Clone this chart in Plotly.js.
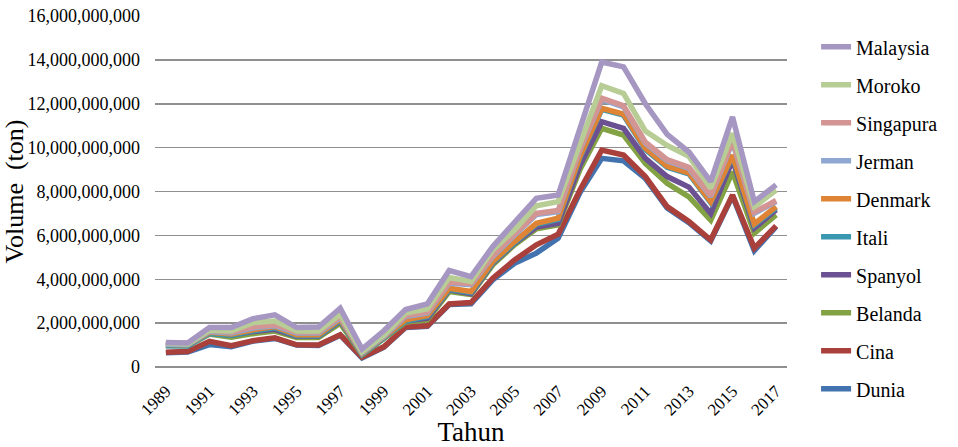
<!DOCTYPE html>
<html>
<head>
<meta charset="utf-8">
<script src="https://cdn.plot.ly/plotly-3.0.1.min.js"></script>
<style>html,body{margin:0;padding:0;background:#fff;}#chart{width:958px;height:447px;}
#chart text{font-family:'Liberation Serif','Times New Roman',serif !important;}</style>
</head>
<body>
<div id="chart"></div>
<script>
// Years 1989..2017
const years = [1989,1990,1991,1992,1993,1994,1995,1996,1997,1998,1999,2000,2001,2002,2003,2004,2005,2006,2007,2008,2009,2010,2011,2012,2013,2014,2015,2016,2017];
const tickYears = [1989,1991,1993,1995,1997,1999,2001,2003,2005,2007,2009,2011,2013,2015,2017];
// values in billions of tons
const malaysia  = [1.12,1.09,1.80,1.80,2.20,2.38,1.80,1.82,2.68,0.82,1.65,2.62,2.88,4.40,4.12,5.49,6.60,7.69,7.84,10.9,13.9,13.68,12.0,10.6,9.8,8.45,11.4,7.54,8.3];
const moroko    = [1.08,1.05,1.68,1.64,2.02,2.10,1.64,1.64,2.40,0.70,1.45,2.46,2.65,4.08,3.90,5.34,6.25,7.35,7.54,10.2,12.82,12.47,10.75,10.1,9.6,8.15,10.65,7.31,8.07];
const singapura = [1.09,1.08,1.67,1.60,1.83,1.93,1.60,1.60,2.30,0.70,1.45,2.35,2.51,3.87,3.80,5.08,6.07,7.00,7.13,9.95,12.25,11.91,10.25,9.45,9.10,7.82,10.32,7.06,7.59];
const jerman    = [1.04,1.03,1.62,1.55,1.78,1.88,1.55,1.55,2.25,0.65,1.40,2.30,2.46,3.82,3.75,5.03,6.02,6.95,7.08,9.9,12.2,11.86,10.2,9.4,9.05,7.77,10.27,7.01,7.54];
const denmark   = [1.02,1.01,1.58,1.50,1.70,1.84,1.47,1.47,2.18,0.62,1.37,2.15,2.35,3.59,3.44,4.81,5.72,6.55,6.78,9.6,11.79,11.53,9.97,9.15,8.85,7.54,9.66,6.52,7.31];
const itali     = [0.97,0.96,1.53,1.45,1.65,1.79,1.42,1.42,2.13,0.57,1.32,2.10,2.30,3.54,3.39,4.76,5.67,6.50,6.73,9.55,11.74,11.48,9.92,9.10,8.80,7.49,9.61,6.47,7.26];
const spanyol   = [1.00,0.99,1.55,1.45,1.62,1.72,1.40,1.40,2.10,0.60,1.35,2.10,2.23,3.52,3.34,4.73,5.64,6.38,6.55,9.2,11.18,10.88,9.51,8.68,8.2,7.0,9.44,6.33,7.16];
const belanda   = [0.98,0.97,1.50,1.36,1.52,1.64,1.35,1.35,2.00,0.55,1.30,2.05,2.15,3.44,3.30,4.66,5.57,6.30,6.48,9.0,10.88,10.57,9.28,8.37,7.75,6.7,8.9,6.1,6.93];
const cina      = [0.67,0.71,1.17,0.97,1.20,1.33,1.01,1.00,1.47,0.45,0.92,1.82,1.88,2.87,2.94,4.05,4.88,5.57,6.05,8.07,9.89,9.66,8.68,7.31,6.63,5.79,7.84,5.42,6.43];
const dunia     = [0.65,0.68,1.02,0.92,1.18,1.30,1.00,0.98,1.45,0.42,0.90,1.80,1.86,2.85,2.88,3.97,4.73,5.19,5.87,7.95,9.51,9.40,8.60,7.25,6.58,5.75,7.80,5.30,6.40];

const seriesNames = ["Dunia","Cina","Belanda","Spanyol","Itali","Denmark","Jerman","Singapura","Moroko","Malaysia"];
const seriesVals  = [dunia,cina,belanda,spanyol,itali,denmark,jerman,singapura,moroko,malaysia];
const colors      = ["#4373AE","#A9403C","#83A243","#6C5192","#3A97B0","#DF8334","#8EA8D2","#D39494","#B7CD95","#A697C2"];

const SERIF = 'Liberation Serif';

const traces = seriesNames.map((n,i)=>({
  type:'scatter', mode:'lines', name:n, legendgroup:n,
  legendrank: seriesNames.length - i,
  x: years, y: seriesVals[i].map(v=>v*1e9),
  line:{color:colors[i], width:5.5, shape:'linear'},
  hoverinfo:'none'
}));

const layout = {
  width:958, height:447,
  margin:{l:155, r:171, t:16, b:80},
  paper_bgcolor:'#fff', plot_bgcolor:'#fff',
  font:{family:SERIF, color:'#000', size:15},
  showlegend:true,
  legend:{x:1.046, xanchor:'left', y:0.968, yanchor:'top', traceorder:'grouped', tracegroupgap:9,
          maxheight:440,
          font:{size:20, family:SERIF, color:'#000'}, bgcolor:'rgba(0,0,0,0)', itemwidth:30},
  xaxis:{range:[1988.5,2017.5], tickmode:'array', tickvals:tickYears, ticktext:tickYears.map(String),
         tickangle:-45, showgrid:false, zeroline:false, showline:false, ticks:'', ticklen:0,
         ticklabelstandoff:10, tickfont:{size:17, family:SERIF, color:'#000'},
         title:{text:'Tahun', font:{size:27, family:SERIF, color:'#000'}, standoff:6}},
  yaxis:{range:[0,16e9], tick0:0, dtick:2e9, tickformat:',.0f', showgrid:true, gridcolor:'#8f8f8f', gridwidth:1.5,
         zeroline:true, zerolinecolor:'#8f8f8f', zerolinewidth:1.5, showline:false, ticks:'',
         ticklabelstandoff:14, tickfont:{size:18, family:SERIF, color:'#000'},
         title:{text:'Volume\u00a0\u00a0(ton)', font:{size:26, family:SERIF, color:'#000'}, standoff:3}}
};

Plotly.newPlot('chart', traces, layout, {staticPlot:true, displayModeBar:false});
</script>
</body>
</html>
